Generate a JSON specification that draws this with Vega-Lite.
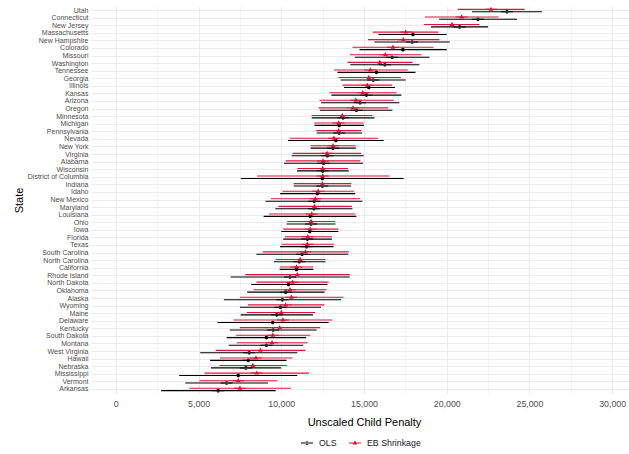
{
 "$schema": "https://vega.github.io/schema/vega-lite/v6.json",
 "width": 546,
 "height": 388,
 "autosize": "none",
 "padding": {"left": 91, "top": 6, "right": 0, "bottom": 60},
 "background": "white",
 "config": {"font": "Liberation Sans", "view": {"stroke": null}},
 "data": {"values": [
  {"state":"Utah","model":"OLS","est":23640,"lo":21530,"hi":25750},
  {"state":"Utah","model":"EB Shrinkage","est":22670,"lo":20660,"hi":24710},
  {"state":"Connecticut","model":"OLS","est":21890,"lo":19540,"hi":24250},
  {"state":"Connecticut","model":"EB Shrinkage","est":20900,"lo":18670,"hi":23130},
  {"state":"New Jersey","model":"OLS","est":20780,"lo":19050,"hi":22500},
  {"state":"New Jersey","model":"EB Shrinkage","est":20320,"lo":18620,"hi":21970},
  {"state":"Massachusetts","model":"OLS","est":17960,"lo":15870,"hi":20000},
  {"state":"Massachusetts","model":"EB Shrinkage","est":17520,"lo":15530,"hi":19490},
  {"state":"New Hampshire","model":"OLS","est":17910,"lo":15630,"hi":20190},
  {"state":"New Hampshire","model":"EB Shrinkage","est":17380,"lo":15240,"hi":19560},
  {"state":"Colorado","model":"OLS","est":17350,"lo":14730,"hi":20000},
  {"state":"Colorado","model":"EB Shrinkage","est":16750,"lo":14300,"hi":19200},
  {"state":"Missouri","model":"OLS","est":16700,"lo":14440,"hi":18960},
  {"state":"Missouri","model":"EB Shrinkage","est":16290,"lo":14150,"hi":18470},
  {"state":"Washington","model":"OLS","est":16260,"lo":14170,"hi":18350},
  {"state":"Washington","model":"EB Shrinkage","est":15950,"lo":14000,"hi":17940},
  {"state":"Tennessee","model":"OLS","est":15750,"lo":13400,"hi":18110},
  {"state":"Tennessee","model":"EB Shrinkage","est":15390,"lo":13180,"hi":17650},
  {"state":"Georgia","model":"OLS","est":15560,"lo":13590,"hi":17520},
  {"state":"Georgia","model":"EB Shrinkage","est":15290,"lo":13450,"hi":17230},
  {"state":"Illinois","model":"OLS","est":15290,"lo":13790,"hi":16870},
  {"state":"Illinois","model":"EB Shrinkage","est":15190,"lo":13710,"hi":16700},
  {"state":"Kansas","model":"OLS","est":15150,"lo":13030,"hi":17260},
  {"state":"Kansas","model":"EB Shrinkage","est":14930,"lo":12910,"hi":16970},
  {"state":"Arizona","model":"OLS","est":14760,"lo":12400,"hi":17140},
  {"state":"Arizona","model":"EB Shrinkage","est":14510,"lo":12310,"hi":16800},
  {"state":"Oregon","model":"OLS","est":14540,"lo":12330,"hi":16720},
  {"state":"Oregon","model":"EB Shrinkage","est":14340,"lo":12260,"hi":16460},
  {"state":"Minnesota","model":"OLS","est":13740,"lo":11840,"hi":15630},
  {"state":"Minnesota","model":"EB Shrinkage","est":13690,"lo":11840,"hi":15490},
  {"state":"Michigan","model":"OLS","est":13500,"lo":12010,"hi":15000},
  {"state":"Michigan","model":"EB Shrinkage","est":13470,"lo":11990,"hi":14980},
  {"state":"Pennsylvania","model":"OLS","est":13500,"lo":12140,"hi":14880},
  {"state":"Pennsylvania","model":"EB Shrinkage","est":13470,"lo":12110,"hi":14830},
  {"state":"Nevada","model":"OLS","est":13300,"lo":10410,"hi":16190},
  {"state":"Nevada","model":"EB Shrinkage","est":13180,"lo":10530,"hi":15850},
  {"state":"New York","model":"OLS","est":13130,"lo":11770,"hi":14510},
  {"state":"New York","model":"EB Shrinkage","est":13130,"lo":11770,"hi":14490},
  {"state":"Virginia","model":"OLS","est":12790,"lo":10630,"hi":14980},
  {"state":"Virginia","model":"EB Shrinkage","est":12770,"lo":10680,"hi":14830},
  {"state":"Alabama","model":"OLS","est":12550,"lo":10170,"hi":14950},
  {"state":"Alabama","model":"EB Shrinkage","est":12520,"lo":10270,"hi":14780},
  {"state":"Wisconsin","model":"OLS","est":12500,"lo":10950,"hi":14080},
  {"state":"Wisconsin","model":"EB Shrinkage","est":12500,"lo":10970,"hi":14030},
  {"state":"District of Columbia","model":"OLS","est":12480,"lo":7550,"hi":17400},
  {"state":"District of Columbia","model":"EB Shrinkage","est":12500,"lo":8540,"hi":16550},
  {"state":"Indiana","model":"OLS","est":12480,"lo":10750,"hi":14220},
  {"state":"Indiana","model":"EB Shrinkage","est":12480,"lo":10750,"hi":14220},
  {"state":"Idaho","model":"OLS","est":12180,"lo":9930,"hi":14470},
  {"state":"Idaho","model":"EB Shrinkage","est":12230,"lo":10070,"hi":14390},
  {"state":"New Mexico","model":"OLS","est":11990,"lo":9050,"hi":14900},
  {"state":"New Mexico","model":"EB Shrinkage","est":12060,"lo":9370,"hi":14760},
  {"state":"Maryland","model":"OLS","est":11970,"lo":9640,"hi":14300},
  {"state":"Maryland","model":"EB Shrinkage","est":12010,"lo":9830,"hi":14270},
  {"state":"Louisiana","model":"OLS","est":11750,"lo":8930,"hi":14540},
  {"state":"Louisiana","model":"EB Shrinkage","est":11840,"lo":9270,"hi":14470},
  {"state":"Ohio","model":"OLS","est":11800,"lo":10320,"hi":13280},
  {"state":"Ohio","model":"EB Shrinkage","est":11800,"lo":10360,"hi":13250},
  {"state":"Iowa","model":"OLS","est":11720,"lo":10000,"hi":13450},
  {"state":"Iowa","model":"EB Shrinkage","est":11750,"lo":10120,"hi":13450},
  {"state":"Florida","model":"OLS","est":11580,"lo":10120,"hi":13060},
  {"state":"Florida","model":"EB Shrinkage","est":11600,"lo":10220,"hi":13060},
  {"state":"Texas","model":"OLS","est":11530,"lo":9930,"hi":13160},
  {"state":"Texas","model":"EB Shrinkage","est":11580,"lo":10020,"hi":13180},
  {"state":"South Carolina","model":"OLS","est":11260,"lo":8500,"hi":14050},
  {"state":"South Carolina","model":"EB Shrinkage","est":11460,"lo":8880,"hi":14080},
  {"state":"North Carolina","model":"OLS","est":11090,"lo":9560,"hi":12670},
  {"state":"North Carolina","model":"EB Shrinkage","est":11140,"lo":9660,"hi":12670},
  {"state":"California","model":"OLS","est":10920,"lo":9900,"hi":11940},
  {"state":"California","model":"EB Shrinkage","est":10920,"lo":9930,"hi":11940},
  {"state":"Rhode Island","model":"OLS","est":10530,"lo":6940,"hi":14130},
  {"state":"Rhode Island","model":"EB Shrinkage","est":10970,"lo":7820,"hi":14150},
  {"state":"North Dakota","model":"OLS","est":10440,"lo":8180,"hi":12790},
  {"state":"North Dakota","model":"EB Shrinkage","est":10680,"lo":8500,"hi":12860},
  {"state":"Oklahoma","model":"OLS","est":10270,"lo":7940,"hi":12620},
  {"state":"Oklahoma","model":"EB Shrinkage","est":10530,"lo":8330,"hi":12740},
  {"state":"Alaska","model":"OLS","est":10070,"lo":6530,"hi":13620},
  {"state":"Alaska","model":"EB Shrinkage","est":10610,"lo":7500,"hi":13760},
  {"state":"Wyoming","model":"OLS","est":9950,"lo":7500,"hi":12400},
  {"state":"Wyoming","model":"EB Shrinkage","est":10270,"lo":7990,"hi":12600},
  {"state":"Maine","model":"OLS","est":9730,"lo":7550,"hi":11920},
  {"state":"Maine","model":"EB Shrinkage","est":10000,"lo":7910,"hi":12060},
  {"state":"Delaware","model":"OLS","est":9490,"lo":6140,"hi":12860},
  {"state":"Delaware","model":"EB Shrinkage","est":10100,"lo":7110,"hi":13080},
  {"state":"Kentucky","model":"OLS","est":9510,"lo":6890,"hi":12140},
  {"state":"Kentucky","model":"EB Shrinkage","est":9900,"lo":7500,"hi":12350},
  {"state":"South Dakota","model":"OLS","est":9100,"lo":6700,"hi":11500},
  {"state":"South Dakota","model":"EB Shrinkage","est":9490,"lo":7260,"hi":11750},
  {"state":"Montana","model":"OLS","est":9100,"lo":6820,"hi":11330},
  {"state":"Montana","model":"EB Shrinkage","est":9440,"lo":7310,"hi":11580},
  {"state":"West Virginia","model":"OLS","est":8060,"lo":5100,"hi":10970},
  {"state":"West Virginia","model":"EB Shrinkage","est":8740,"lo":6040,"hi":11460},
  {"state":"Hawaii","model":"OLS","est":8010,"lo":5700,"hi":10320},
  {"state":"Hawaii","model":"EB Shrinkage","est":8470,"lo":6290,"hi":10680},
  {"state":"Nebraska","model":"OLS","est":7860,"lo":5750,"hi":9980},
  {"state":"Nebraska","model":"EB Shrinkage","est":8280,"lo":6260,"hi":10320},
  {"state":"Mississippi","model":"OLS","est":7400,"lo":3830,"hi":10970},
  {"state":"Mississippi","model":"EB Shrinkage","est":8520,"lo":5360,"hi":11670},
  {"state":"Vermont","model":"OLS","est":6700,"lo":4200,"hi":9200},
  {"state":"Vermont","model":"EB Shrinkage","est":7400,"lo":5050,"hi":9760},
  {"state":"Arkansas","model":"OLS","est":6190,"lo":2740,"hi":9660},
  {"state":"Arkansas","model":"EB Shrinkage","est":7500,"lo":4440,"hi":10580}
 ]},
 "encoding": {
  "y": {
   "field": "state", "type": "nominal", "sort": null,
   "scale": {"type": "band", "paddingInner": 0, "paddingOuter": 0.1},
   "axis": {"title": "State", "labelFontSize": 7, "labelColor": "#4D4D4D", "labelPadding": 3, "ticks": false, "domain": false,
            "grid": true, "gridColor": "#EBEBEB", "gridWidth": 1.1, "bandPosition": 0.5,
            "titleFontSize": 11, "titleFontWeight": "normal", "titleColor": "black", "titlePadding": 3}
  },
  "yOffset": {"field": "model", "type": "nominal", "scale": {"domain": ["EB Shrinkage", "OLS"], "paddingInner": 0, "paddingOuter": 0.58}},
  "color": {"field": "model", "type": "nominal",
   "scale": {"domain": ["OLS", "EB Shrinkage"], "range": ["black", "crimson"]},
   "legend": {"title": null, "orient": "none", "direction": "horizontal", "legendX": 210, "legendY": 431, "labelFontSize": 8.8, "labelColor": "#1A1A1A", "symbolSize": 144, "labelOffset": 6, "columnPadding": 12, "symbolStrokeWidth": 0}
  }
 },
 "layer": [
  {
   "mark": {"type": "rule", "strokeWidth": 1.1},
   "encoding": {
    "x": {"field": "lo", "type": "quantitative",
     "scale": {"domain": [-1500, 31500], "nice": false, "zero": false},
     "axis": {"title": "Unscaled Child Penalty", "values": [0,2500,5000,7500,10000,12500,15000,17500,20000,22500,25000,27500,30000],
      "labelExpr": "datum.value % 5000 === 0 ? format(datum.value, ',') : ''",
      "grid": true, "gridColor": "#EBEBEB", "gridWidth": {"condition": {"test": "datum.value % 5000 === 0", "value": 1.1}, "value": 0.6},
      "domain": false, "ticks": false, "labelFontSize": 8.8, "labelColor": "#4D4D4D", "labelPadding": 5,
      "titleFontSize": 11, "titleFontWeight": "normal", "titleColor": "black", "titlePadding": 9}},
    "x2": {"field": "hi"}
   }
  },
  {
   "mark": {"type": "point", "filled": true, "opacity": 1, "size": 144, "strokeWidth": 0},
   "encoding": {
    "x": {"field": "est", "type": "quantitative"},
    "shape": {"field": "model", "type": "nominal",
     "scale": {"domain": ["OLS", "EB Shrinkage"], "range": [
      "M-1,-0.08H1V0.08H-1ZM-0.3,0A0.3,0.3 0 1,0 0.3,0A0.3,0.3 0 1,0 -0.3,0Z",
      "M-1,-0.08H1V0.08H-1ZM0,-0.45L0.4,0.25L-0.4,0.25Z"]},
     "legend": {"title": null, "orient": "none", "direction": "horizontal", "legendX": 210, "legendY": 431, "labelFontSize": 8.8, "labelColor": "#1A1A1A", "symbolSize": 144, "labelOffset": 6, "columnPadding": 12, "symbolStrokeWidth": 0}
    }
   }
  }
 ]
}
